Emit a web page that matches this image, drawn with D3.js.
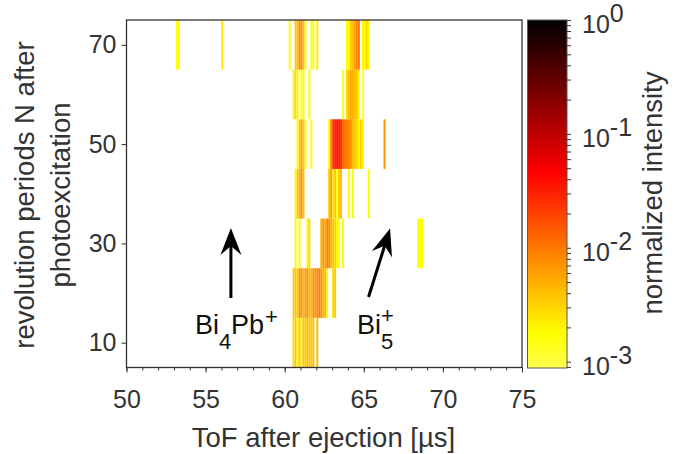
<!DOCTYPE html>
<html><head><meta charset="utf-8">
<script src="https://cdn.jsdelivr.net/npm/d3@7"></script>
<style>
html,body{margin:0;padding:0;background:#fff}
svg{display:block}
text{font-family:"Liberation Sans",Arial,sans-serif}
</style></head><body>
<svg id="c" width="681" height="454"></svg>
<script>
// bin index = (ToF - 50 µs) / 0.125 µs
const binWidth = 0.125;
const row10Bins = [84,85,86,87,88,89,90,91,92,93,94,96];
const row10Vals = [.0028,.0035,.0018,.0035,.002,.0035,.0035,.004,.0035,.0035,.004,.004];
const row20Bins = [84,85,86,87,88,89,90,91,92,93,94,95,96,97,98,99,100,101,104,105];
const row20Vals = [.0035,.0035,.0035,.007,.007,.0045,.006,.007,.0045,.0045,.007,.007,.008,.009,.007,.0045,.0045,.002,.0028,.0035];
const row30Bins = [85,87,91,92,98,99,100,101,102,103,104,105,106,107,109];
const row30Vals = [.0018,.0018,.002,.0028,.0045,.007,.005,.009,.008,.0045,.0035,.003,.002,.0018,.0018];
const row30RightBins = [147,148,149];
const row30RightVals = [.0018,.0018,.0018];
const row40Bins = [85,86,87,88,89,102,103,104,105,106,107,108,112,114,122];
const row40Vals = [.0018,.0035,.0045,.008,.004,.0035,.006,.0022,.0035,.0018,.0035,.004,.0018,.0018,.0018];
const row50Bins = [86,87,88,89,90,93,102,103,104,105,106,107,108,109,110,111,112,113,114,115,116,117,118,119,130];
const row50Vals = [.0018,.0035,.006,.0035,.002,.0018,.0018,.008,.022,.03,.035,.03,.025,.012,.01,.009,.008,.007,.004,.0035,.0035,.0018,.0035,.002,.007];
const row60Bins = [84,85,86,88,89,92,109,111,112,113,114,115,116,117,119];
const row60Vals = [.002,.0028,.002,.0018,.0018,.0018,.0015,.0028,.004,.005,.005,.004,.004,.002,.0012];
const row70Bins = [25,26,48,82,85,86,87,88,89,90,93,94,96,111,112,113,114,115,116,117,119,120,121,122];
const row70Vals = [.0016,.0016,.0025,.0016,.0035,.004,.007,.008,.004,.002,.0016,.0016,.0022,.0018,.0018,.0035,.004,.006,.008,.01,.002,.002,.003,.002];

const rowData = [
  [10,row10Bins,row10Vals],[20,row20Bins,row20Vals],[30,row30Bins,row30Vals],[30,row30RightBins,row30RightVals],
  [40,row40Bins,row40Vals],[50,row50Bins,row50Vals],[60,row60Bins,row60Vals],[70,row70Bins,row70Vals]];
const xTicks = [50,55,60,65,70,75];
const yTicks = [10,30,50,70];
const cbExponents = [0,-1,-2,-3];
const xTitle = "ToF after ejection [µs]";
const yTitle = ["revolution periods N after","photoexcitation"];
const cbTitle = "normalized intensity";

const ink = "#333333";
const svg = d3.select("#c");
const x = d3.scaleLinear().domain([50,75]).range([126.5,522]);
const y = d3.scaleLinear().domain([5,75]).range([367.5,20]);
const cbY = d3.scaleLog().domain([0.00088,1]).range([368,20]);
const color = d3.scaleLinear()
  .domain([0,-1.34,-2.75,-3.06])
  .range(["#000000","#ff0000","#ffff00","#ffff50"])
  .interpolate(d3.interpolateRgb);
const col = v => color(Math.log10(v));

// heat-map cells
rowData.forEach(([c,bins,vals])=>{
  svg.append("g").selectAll("rect").data(bins).join("rect")
    .attr("x",b=>x(50+b*binWidth))
    .attr("width",x(50+binWidth)-x(50))
    .attr("y",y(c+5)).attr("height",y(c-5)-y(c+5))
    .attr("fill",(b,i)=>col(vals[i]));
});

// box and axes
svg.append("rect").attr("x",126.5).attr("y",20).attr("width",395.5).attr("height",347.5)
  .attr("fill","none").attr("stroke","#333").attr("stroke-width",1.3);

function styleAxis(g){
  g.select(".domain").remove();
  g.selectAll("line").attr("stroke","#333").attr("stroke-width",1);
  g.selectAll("text").attr("fill",ink).attr("font-size",25);
}
const gxMinor = svg.append("g").attr("transform","translate(0,367.5)")
  .call(d3.axisBottom(x).tickValues(d3.range(50,76)).tickSize(3).tickFormat(""));
gxMinor.call(styleAxis);
const gx = svg.append("g").attr("transform","translate(0,367.5)")
  .call(d3.axisBottom(x).tickValues(xTicks).tickSize(5).tickPadding(18));
gx.call(styleAxis);
const gy = svg.append("g").attr("transform","translate(126.5,0)")
  .call(d3.axisLeft(y).tickValues(yTicks).tickSize(5).tickPadding(5));
gy.call(styleAxis);

// titles
const titleSize = 27.5;
svg.append("text").attr("x",323.5).attr("y",447).attr("text-anchor","middle")
  .attr("font-size",titleSize).attr("fill",ink).text(xTitle);
yTitle.forEach((t,i)=>{
  svg.append("text").attr("transform",`translate(${34+i*36},195) rotate(-90)`)
    .attr("text-anchor","middle").attr("font-size",titleSize).attr("fill",ink).text(t);
});
svg.append("text").attr("transform","translate(662,193) rotate(-90)")
  .attr("text-anchor","middle").attr("font-size",titleSize).attr("fill",ink).text(cbTitle);

// colour bar
const grad = svg.append("defs").append("linearGradient").attr("id","cb")
  .attr("x1",0).attr("x2",0).attr("y1",0).attr("y2",1);
[0,-1.34,-2.75,-3.056].forEach(e=>{
  grad.append("stop").attr("offset",(cbY(Math.pow(10,e))-20)/348).attr("stop-color",color(e));
});
svg.append("rect").attr("x",527.5).attr("y",20).attr("width",39.5).attr("height",348)
  .attr("fill","url(#cb)").attr("stroke","#555").attr("stroke-width",1);
const cbMinor = [];
[-4,-3,-2,-1].forEach(e=>d3.range(2,10).forEach(m=>{const v=m*Math.pow(10,e); if(v>=0.00088) cbMinor.push(v);}));
const gc = svg.append("g").attr("transform","translate(567,0)")
  .call(d3.axisRight(cbY).tickValues(cbMinor.concat(cbExponents.map(e=>Math.pow(10,e)))).tickSize(4).tickFormat(""));
gc.call(styleAxis);
cbExponents.forEach(e=>{
  const yy = cbY(Math.pow(10,e));
  const t = svg.append("text").attr("x",582).attr("y",yy+13).attr("font-size",25).attr("fill",ink);
  t.append("tspan").text("10");
  t.append("tspan").attr("dy",-11).text(e);
});

// annotations, anchored in data coordinates
const arrowA = {from:[56.6,19.0],to:[56.6,33.1]};
const arrowB = {from:[65.3,19.2],to:[66.66,33.0]};
function arrow(a){
  const x0=x(a.from[0]),y0=y(a.from[1]),x1=x(a.to[0]),y1=y(a.to[1]);
  const ang=Math.atan2(y1-y0,x1-x0),c=Math.cos(ang),s=Math.sin(ang);
  const bx=x1-c*18,by=y1-s*18;
  svg.append("line").attr("x1",x0).attr("y1",y0).attr("x2",bx).attr("y2",by)
    .attr("stroke","#000").attr("stroke-width",3);
  const L=27,W=10.5;
  const p=[[x1,y1],[x1-c*L-s*W,y1-s*L+c*W],[bx,by],[x1-c*L+s*W,y1-s*L-c*W]];
  svg.append("polygon").attr("points",p.join(" ")).attr("fill","#000");
}
arrow(arrowA); arrow(arrowB);
function label(px,py,txt,size){
  svg.append("text").attr("x",px).attr("y",py).attr("font-size",size).attr("fill","#111").text(txt);
}
label(195,334,"Bi",27); label(219,349,"4",22); label(231,334,"Pb",27); label(265,324,"+",22);
label(357,334,"Bi",27); label(381,349,"5",22); label(381,323,"+",22);
</script>
</body></html>
